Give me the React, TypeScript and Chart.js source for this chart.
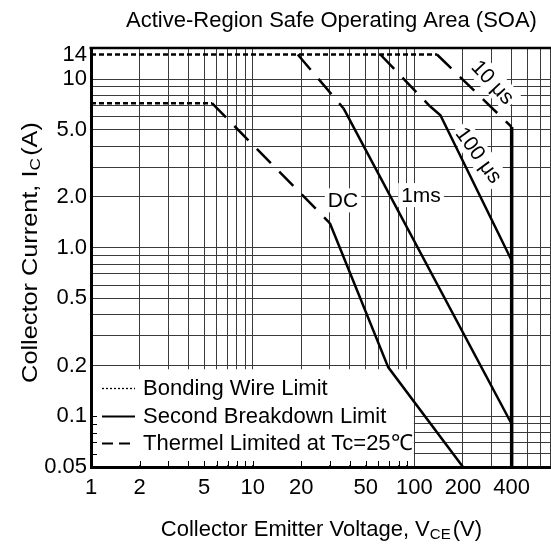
import React, { useEffect, useRef } from 'react';
import { Chart, registerables } from 'chart.js';

Chart.register(...registerables);

// ---------- texts ----------
const chartTitle = 'Active-Region Safe Operating Area (SOA)';
const xAxisTitle = ['Collector Emitter Voltage, V', 'CE', '(V)'];
const yAxisTitle = ['Collector Current, I', 'C', '(A)'];
const legendLabels = ['Bonding Wire Limit', 'Second Breakdown Limit', 'Thermel Limited at Tc=25\u2103'];

// ---------- axes ----------
const xRange = [1, 1000];
const yRange = [0.05, 15.3];
const xTickValues = [1, 2, 5, 10, 20, 50, 100, 200, 400];
const xTickLabels = ['1', '2', '5', '10', '20', '50', '100', '200', '400'];
const xGridValues = [1, 2, 3, 4, 5, 6, 7, 8, 9, 10, 20, 30, 40, 50, 60, 70, 80, 90, 100, 200, 300, 400, 500, 600, 700, 800, 900, 1000];
const yTickValues = [0.05, 0.1, 0.2, 0.5, 1, 2, 5, 10, 14];
const yTickLabels = ['0.05', '0.1', '0.2', '0.5', '1.0', '2.0', '5.0', '10', '14'];
const yGridValues = [0.05, 0.06, 0.07, 0.08, 0.09, 0.1, 0.2, 0.3, 0.4, 0.5, 0.6, 0.7, 0.8, 0.9, 1, 2, 3, 4, 5, 6, 7, 8, 9, 10];

// ---------- series (V, A) ----------
const bondingWire14V = [1, 138];
const bondingWire14A = [14, 14];
const bondingWire7V = [1, 5.6];
const bondingWire7A = [7.2, 7.2];

const thermalDcV = [5.6, 30];
const thermalDcA = [7.2, 1.4];
const thermal1msV = [19, 36.5];
const thermal1msA = [14, 6.7];
const thermal100usV = [61.6, 125];
const thermal100usA = [14, 6.9];
const thermal10usV = [138, 400];
const thermal10usA = [14, 5.2];

const breakdownDcV = [30, 69, 200];
const breakdownDcA = [1.4, 0.195, 0.05];
const breakdown1msV = [36.5, 400];
const breakdown1msA = [6.7, 0.09];
const breakdown100usV = [125, 145, 400];
const breakdown100usA = [6.9, 6.1, 0.84];
const vceoLimitV = [400, 400];
const vceoLimitA = [5.2, 0.05];

// ---------- curve labels ----------
const curveLabelTexts = ['DC', '1ms', '10 \u03bcs', '100 \u03bcs'];
const curveLabelV = [36.2, 110, 306, 251];
const curveLabelA = [1.91, 2.05, 9.6, 3.54];

const FONT = "'Liberation Sans', Arial, Helvetica, sans-serif";
const DOT = [5, 3];
const DASH = [20, 12];

const pts = (v: number[], a: number[]) => v.map((x, i) => ({ x, y: a[i] }));

function drawRich(ctx: CanvasRenderingContext2D, parts: string[], size: number, subSize: number) {
  ctx.font = `${size}px ${FONT}`;
  const w0 = ctx.measureText(parts[0]).width;
  const w2 = ctx.measureText(parts[2]).width;
  ctx.font = `${subSize}px ${FONT}`;
  const w1 = ctx.measureText(parts[1]).width;
  const gap = 2;
  const total = w0 + w1 + gap + w2;
  let x = -total / 2;
  const base = size * 0.36;
  ctx.textAlign = 'left';
  ctx.textBaseline = 'alphabetic';
  ctx.font = `${size}px ${FONT}`;
  ctx.fillText(parts[0], x, base);
  x += w0;
  ctx.font = `${subSize}px ${FONT}`;
  ctx.fillText(parts[1], x, base + 3);
  x += w1 + gap;
  ctx.font = `${size}px ${FONT}`;
  ctx.fillText(parts[2], x, base);
}

const soaPlugin = {
  id: 'soaDecor',
  beforeDatasetsDraw(chart: any) {
    const { ctx, chartArea: a, scales } = chart;
    const xs = scales.x;
    const ys = scales.y;
    ctx.save();
    // legend box (white, covers grid)
    const bx0 = a.left + 2;
    const bx1 = xs.getPixelForValue(100) - 0.5;
    const by0 = ys.getPixelForValue(0.19);
    const by1 = a.bottom - 2;
    ctx.fillStyle = '#fff';
    ctx.fillRect(bx0, by0, bx1 - bx0, by1 - by0);
    // inner ticks inside the legend box
    ctx.strokeStyle = '#000';
    ctx.lineWidth = 1;
    ctx.beginPath();
    xGridValues.forEach((v) => {
      if (v > 1 && v < 100) {
        const px = Math.round(xs.getPixelForValue(v)) + 0.5;
        ctx.moveTo(px, a.bottom - 1);
        ctx.lineTo(px, a.bottom - 6);
      }
    });
    yGridValues.forEach((v) => {
      if (v > 0.05 && v <= 0.1) {
        const py = Math.round(ys.getPixelForValue(v)) + 0.5;
        ctx.moveTo(a.left + 1, py);
        ctx.lineTo(a.left + 6, py);
      }
    });
    ctx.stroke();

    // legend entries
    const rows = [a.bottom - 79, a.bottom - 51.5, a.bottom - 24];
    const sx0 = a.left + 11;
    const sx1 = a.left + 44;
    const styles = [
      { dash: [2, 2], w: 1.3 },
      { dash: [], w: 2 },
      { dash: [11, 6], w: 2 },
    ];
    rows.forEach((ry, i) => {
      ctx.setLineDash(styles[i].dash);
      ctx.lineWidth = styles[i].w;
      ctx.beginPath();
      ctx.moveTo(sx0, Math.round(ry) + 0.5);
      ctx.lineTo(sx1, Math.round(ry) + 0.5);
      ctx.stroke();
      ctx.setLineDash([]);
      ctx.fillStyle = '#000';
      ctx.font = `22px ${FONT}`;
      ctx.textAlign = 'left';
      ctx.textBaseline = 'middle';
      ctx.fillText(legendLabels[i], a.left + 52, ry + 1);
    });

    // curve labels with white background
    const angles = [0, 0, 47, 54];
    curveLabelTexts.forEach((t, i) => {
      const px = xs.getPixelForValue(curveLabelV[i]);
      const py = ys.getPixelForValue(curveLabelA[i]);
      ctx.save();
      ctx.translate(px, py);
      ctx.rotate((angles[i] * Math.PI) / 180);
      ctx.font = `21px ${FONT}`;
      const w = ctx.measureText(t).width;
      ctx.fillStyle = '#fff';
      ctx.fillRect(-w / 2 - 3, -12, w + 6, 24);
      ctx.fillStyle = '#000';
      ctx.textAlign = 'center';
      ctx.textBaseline = 'middle';
      ctx.fillText(t, 0, 1);
      ctx.restore();
    });
    ctx.restore();
  },
  afterDraw(chart: any) {
    const { ctx, chartArea: a } = chart;
    ctx.save();
    // top frame
    ctx.strokeStyle = '#000';
    ctx.lineWidth = 2.5;
    ctx.beginPath();
    ctx.moveTo(a.left - 1.5, a.top);
    ctx.lineTo(a.right, a.top);
    ctx.stroke();
    // chart title
    ctx.fillStyle = '#000';
    ctx.font = `22px ${FONT}`;
    ctx.textAlign = 'center';
    ctx.textBaseline = 'middle';
    ctx.fillText(chartTitle, (a.left + a.right) / 2 - 2, a.top - 27);
    // x title
    ctx.save();
    ctx.translate(a.left + (a.right - a.left) * 0.475, a.bottom + 61);
    drawRich(ctx, xAxisTitle, 22, 15);
    ctx.restore();
    // y title
    ctx.save();
    ctx.translate(29.5, (a.top + a.bottom) / 2 - 5);
    ctx.rotate(-Math.PI / 2);
    ctx.scale(1.15, 1);
    drawRich(ctx, yAxisTitle, 22, 15);
    ctx.restore();
    ctx.restore();
  },
};

export default function App() {
  const canvasRef = useRef<HTMLCanvasElement | null>(null);

  useEffect(() => {
    const canvas = canvasRef.current;
    if (!canvas) return;
    const common = { showLine: true, pointRadius: 0, borderColor: '#000', fill: false, tension: 0, borderCapStyle: 'butt' };
    const datasets = [
      { label: 'bw14', data: pts(bondingWire14V, bondingWire14A), borderDash: DOT, borderWidth: 2.5 },
      { label: 'bw7', data: pts(bondingWire7V, bondingWire7A), borderDash: DOT, borderWidth: 2.5 },
      { label: 'thDC', data: pts(thermalDcV, thermalDcA), borderDash: DASH, borderWidth: 2.5 },
      { label: 'th1ms', data: pts(thermal1msV, thermal1msA), borderDash: DASH, borderWidth: 2.5 },
      { label: 'th100', data: pts(thermal100usV, thermal100usA), borderDash: DASH, borderWidth: 2.5 },
      { label: 'th10', data: pts(thermal10usV, thermal10usA), borderDash: DASH, borderWidth: 2.5 },
      { label: 'sbDC', data: pts(breakdownDcV, breakdownDcA), borderWidth: 2.5 },
      { label: 'sb1ms', data: pts(breakdown1msV, breakdown1msA), borderWidth: 2.5 },
      { label: 'sb100', data: pts(breakdown100usV, breakdown100usA), borderWidth: 2.5 },
      { label: 'vceo', data: pts(vceoLimitV, vceoLimitA), borderWidth: 3.5 },
    ].map((d) => ({ ...common, ...d }));

    const xAll = Array.from(new Set([...xGridValues, ...xTickValues])).sort((p, q) => p - q);
    const yAll = Array.from(new Set([...yGridValues, ...yTickValues])).sort((p, q) => p - q);

    const chart = new Chart(canvas, {
      type: 'scatter',
      data: { datasets: datasets as any },
      options: {
        animation: false,
        responsive: false,
        layout: { padding: { top: 48, right: 0, left: 0, bottom: 0 } },
        plugins: { legend: { display: false }, title: { display: false }, tooltip: { enabled: false } },
        scales: {
          x: {
            type: 'logarithmic',
            min: xRange[0],
            max: xRange[1],
            afterBuildTicks: (s: any) => {
              s.ticks = xAll.map((v) => ({ value: v }));
            },
            afterFit: (s: any) => {
              s.height = 81;
              s.paddingLeft = 0;
              s.paddingRight = 0;
            },
            ticks: {
              autoSkip: false,
              maxRotation: 0,
              padding: 8,
              color: '#000',
              font: { family: FONT, size: 22 },
              callback: (val: any) => {
                const i = xTickValues.indexOf(Number(val));
                return i >= 0 ? xTickLabels[i] : '';
              },
            },
            grid: { color: '#3a3a3a', lineWidth: 1, drawTicks: false },
            border: { display: true, color: '#000', width: 3 },
          },
          y: {
            type: 'logarithmic',
            min: yRange[0],
            max: yRange[1],
            afterBuildTicks: (s: any) => {
              s.ticks = yAll.map((v) => ({ value: v }));
            },
            afterFit: (s: any) => {
              s.width = 91;
              s.paddingTop = 0;
              s.paddingBottom = 0;
            },
            ticks: {
              autoSkip: false,
              padding: 4,
              color: '#000',
              font: { family: FONT, size: 22 },
              callback: (val: any) => {
                const i = yTickValues.indexOf(Number(val));
                return i >= 0 ? yTickLabels[i] : '';
              },
            },
            grid: {
              color: (c: any) => (c.tick && c.tick.value === 14 ? 'rgba(0,0,0,0)' : '#3a3a3a'),
              lineWidth: 1,
              drawTicks: false,
            },
            border: { display: true, color: '#000', width: 3 },
          },
        },
      },
      plugins: [soaPlugin],
    } as any);
    return () => chart.destroy();
  }, []);

  return (
    <div
      style={{
        position: 'fixed',
        left: 0,
        top: 0,
        width: 551,
        height: 548,
        overflow: 'hidden',
        background: '#fff',
      }}
    >
      <canvas ref={canvasRef} width={576} height={548} style={{ display: 'block' }} />
    </div>
  );
}
